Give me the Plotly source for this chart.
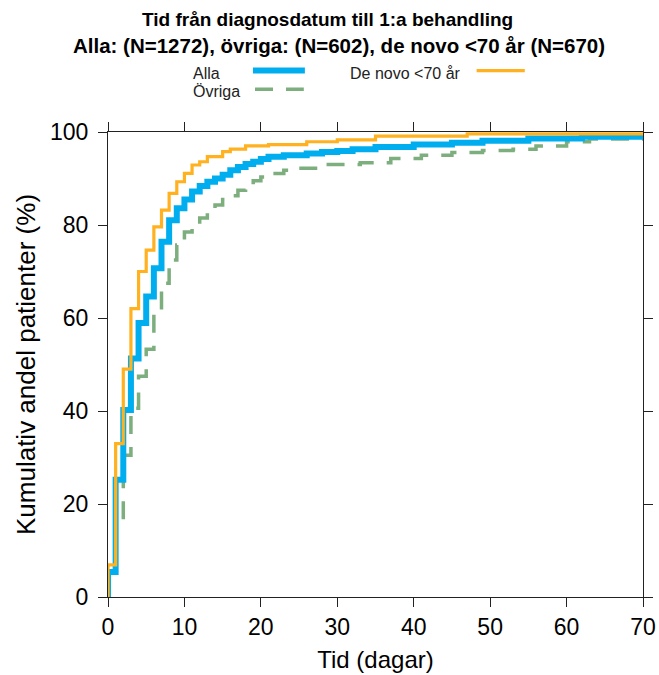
import plotly.graph_objects as go

# Cumulative share of patients treated, by days from diagnosis
dagar_alla = [0, 0, 1, 2, 3, 4, 5, 6, 7, 8, 9, 10, 11, 12, 13, 14, 15, 16, 17, 18, 19, 20,
              21, 23, 26, 28, 30, 32, 35, 40, 45, 49, 55, 62, 70]
pct_alla = [0, 5.4, 25.2, 40.2, 51.3, 58.9, 64.6, 70.7, 76.4, 81.0, 83.6, 85.5, 87.2, 88.4,
            89.3, 90.0, 90.8, 91.8, 92.5, 93.1, 93.6, 94.2, 94.7, 95.0, 95.4, 95.7, 95.9,
            96.3, 96.8, 97.3, 97.7, 98.1, 98.6, 99.0, 99.0]

dagar_ovriga = [0, 0, 1, 2, 3, 4, 5, 6, 7, 8, 9, 10, 11, 12, 13, 14, 15, 16, 17, 18, 19, 20,
                21, 23, 24, 28, 33, 37, 41, 45, 49, 53, 56, 60, 63, 70]
pct_ovriga = [0, 3.5, 16.3, 30.5, 40.6, 47.5, 53.3, 60.8, 67.5, 72.5, 75.7, 78.5, 80.0, 81.5,
              83.2, 84.3, 85.5, 86.3, 87.5, 88.6, 89.5, 90.3, 91.1, 91.8, 92.2, 93.0, 93.4,
              94.3, 95.0, 95.6, 96.0, 96.3, 97.0, 97.9, 98.5, 98.6]

dagar_denovo = [0, 0, 1, 2, 3, 4, 5, 6, 7, 8, 9, 10, 11, 12, 13, 15, 16, 18, 21, 26, 30, 35,
                47, 70]
pct_denovo = [0, 6.9, 33.0, 49.0, 62.0, 70.0, 74.6, 79.6, 83.2, 86.8, 89.3, 91.1, 92.9, 93.6,
              94.7, 95.8, 96.3, 97.0, 97.3, 97.9, 98.3, 99.1, 99.6, 99.6]

BLUE = "#00ADEF"
GREEN = "#7DAE7E"
ORANGE = "#FFB11F"
FONT = "Liberation Sans, Arial, sans-serif"

fig = go.Figure()
fig.add_trace(go.Scatter(x=dagar_ovriga, y=pct_ovriga, mode="lines", name="Övriga",
                         line=dict(shape="hv", color=GREEN, width=3.5, dash="18px,13px")))
fig.add_trace(go.Scatter(x=dagar_alla, y=pct_alla, mode="lines", name="Alla",
                         line=dict(shape="hv", color=BLUE, width=6)))
fig.add_trace(go.Scatter(x=dagar_denovo, y=pct_denovo, mode="lines", name="De novo <70 år",
                         line=dict(shape="hv", color=ORANGE, width=3.2)))

# title lines (two annotations so the line spacing matches)
fig.add_annotation(text="<b>Tid från diagnosdatum till 1:a behandling</b>", xref="paper", yref="paper",
                   x=0.411, y=1.241, yanchor="middle", showarrow=False,
                   font=dict(size=19, color="black"))
fig.add_annotation(text="<b>Alla: (N=1272), övriga: (N=602), de novo <70 år (N=670)</b>",
                   xref="paper", yref="paper", x=0.432, y=1.185, yanchor="middle",
                   showarrow=False, font=dict(size=20.5, color="black"))

# hand-made legend: text first, then line sample
leg_font = dict(size=16, color="#222")
fig.add_annotation(text="Alla", xref="paper", yref="paper", x=0.1546, y=1.126, xanchor="left",
                   yanchor="middle", showarrow=False, font=leg_font)
fig.add_annotation(text="Övriga", xref="paper", yref="paper", x=0.1546, y=1.087, xanchor="left",
                   yanchor="middle", showarrow=False, font=leg_font)
fig.add_annotation(text="De novo <70 år", xref="paper", yref="paper", x=0.449, y=1.126,
                   xanchor="left", yanchor="middle", showarrow=False, font=leg_font)
fig.add_shape(type="line", xref="paper", yref="paper", x0=0.271, x1=0.368, y0=1.132, y1=1.132,
              line=dict(color=BLUE, width=6))
fig.add_shape(type="line", xref="paper", yref="paper", x0=0.2748, x1=0.366, y0=1.092, y1=1.092,
              line=dict(color=GREEN, width=3.5, dash="18px,13px"))
fig.add_shape(type="line", xref="paper", yref="paper", x0=0.689, x1=0.779, y0=1.132, y1=1.132,
              line=dict(color=ORANGE, width=3.2))

axis_common = dict(showline=True, linecolor="#222", linewidth=1, mirror="ticks", ticks="outside",
                   ticklen=9, tickwidth=1, tickcolor="#222", showgrid=False, zeroline=False,
                   automargin=False, tickfont=dict(size=23, color="black"))
fig.update_xaxes(range=[0, 70], tickvals=[0, 10, 20, 30, 40, 50, 60, 70],
                 title=dict(text="Tid (dagar)", font=dict(size=24, color="black"), standoff=12),
                 **axis_common)
fig.update_yaxes(range=[0, 100], tickvals=[0, 20, 40, 60, 80, 100], ticklabelstandoff=5,
                 title=dict(text="Kumulativ andel patienter (%)", font=dict(size=26, color="black"),
                            standoff=6),
                 **axis_common)

# fixed margins: the "70" label may hang into the right margin like in the original
fig.update_layout(width=659, height=675,
                  margin=dict(l=108, r=16, t=132, b=78, autoexpand=False),
                  plot_bgcolor="white", paper_bgcolor="white", showlegend=False,
                  font=dict(family=FONT))

# drop the page's default body margin so the figure fills the window exactly
fig.write_html("out.html", config={"responsive": False, "displayModeBar": False},
               post_script="document.body.style.margin='0';document.body.style.overflow='hidden';")
